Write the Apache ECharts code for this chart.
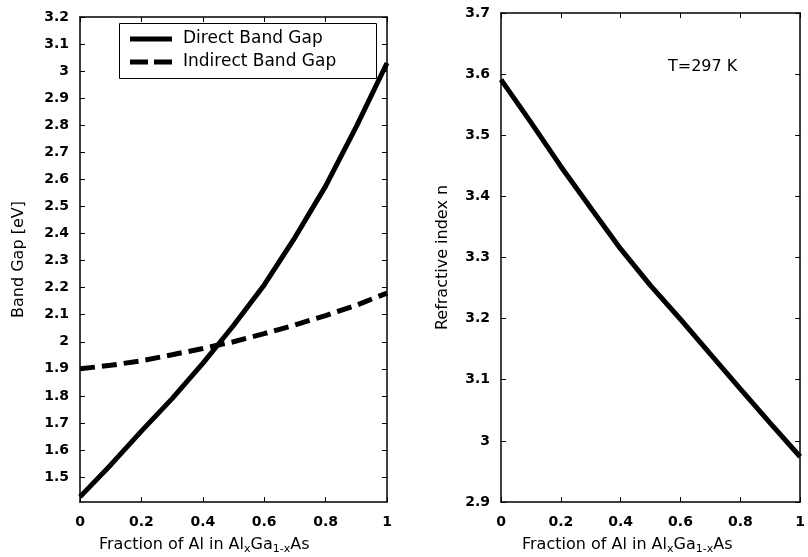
<!DOCTYPE html>
<html>
<head>
<meta charset="utf-8">
<script src="https://cdn.jsdelivr.net/npm/echarts@6/dist/echarts.min.js"></script>
<style>
html,body{margin:0;padding:0;background:#fff;}
#chart{width:808px;height:557px;}
</style>
</head>
<body>
<div id="chart"></div>
<script>
// ---- data ----
var fractionAl = [0, 0.1, 0.2, 0.3, 0.4, 0.45, 0.5, 0.6, 0.7, 0.8, 0.9, 1.0];
var directGap  = [1.427, 1.545, 1.67, 1.79, 1.92, 1.99, 2.06, 2.21, 2.385, 2.575, 2.795, 3.03];
var indirectGap = [1.90, 1.913, 1.93, 1.952, 1.975, 1.988, 2.00, 2.03, 2.062, 2.097, 2.135, 2.18];
var fractionAlN = [0, 0.1, 0.2, 0.3, 0.4, 0.5, 0.6, 0.7, 0.8, 0.9, 1.0];
var refractiveIndex = [3.591, 3.521, 3.449, 3.381, 3.314, 3.254, 3.199, 3.142, 3.085, 3.029, 2.974];

var xTicks = [0, 0.2, 0.4, 0.6, 0.8, 1];
var gapTicks = [1.5, 1.6, 1.7, 1.8, 1.9, 2, 2.1, 2.2, 2.3, 2.4, 2.5, 2.6, 2.7, 2.8, 2.9, 3, 3.1, 3.2];
var nTicks = [2.9, 3, 3.1, 3.2, 3.3, 3.4, 3.5, 3.6, 3.7];
var legendNames = ['Direct Band Gap', 'Indirect Band Gap'];

var FONT = 'DejaVu Sans, sans-serif';

function pairs(xs, ys) { return xs.map(function (x, i) { return [x, ys[i]]; }); }

var chart = echarts.init(document.getElementById('chart'));

function xAxisDef(grid, pos, labels) {
  return {
    type: 'value', gridIndex: grid, position: pos, min: 0, max: 1,
    axisLine: { show: true, onZero: false, lineStyle: { color: '#000', width: 1.5 } },
    axisTick: { show: true, inside: true, length: 5, customValues: xTicks, lineStyle: { color: '#000', width: 1 } },
    axisLabel: { show: labels, customValues: xTicks, margin: 13, color: '#000',
      fontFamily: FONT, fontSize: 14, fontWeight: 'bold' },
    splitLine: { show: false }
  };
}
function yAxisDef(grid, pos, labels, min, max, ticks, name, gap) {
  return {
    type: 'value', gridIndex: grid, position: pos, min: min, max: max,
    name: name, nameLocation: 'middle', nameGap: gap, nameRotate: 90,
    nameTextStyle: { color: '#000', fontFamily: FONT, fontSize: 16 },
    axisLine: { show: true, onZero: false, lineStyle: { color: '#000', width: 1.5 } },
    axisTick: { show: true, inside: true, length: 5, customValues: ticks, lineStyle: { color: '#000', width: 1 } },
    axisLabel: { show: labels, customValues: ticks, margin: 11, color: '#000',
      fontFamily: FONT, fontSize: 14, fontWeight: 'bold' },
    splitLine: { show: false }
  };
}

var subRich = {
  n: { fontFamily: FONT, fontSize: 16, color: '#000' },
  s: { fontFamily: FONT, fontSize: 11, color: '#000', padding: [9, 0, 0, 0] }
};
var xName = '{n|Fraction of Al in Al}{s|x}{n|Ga}{s|1-x}{n|As}';

var option = {
  backgroundColor: '#fff',
  animation: false,
  grid: [
    { left: 80, top: 17, width: 307, height: 485 },
    { left: 501, top: 13, width: 306, height: 489 }
  ],
  xAxis: [
    xAxisDef(0, 'bottom', true),
    xAxisDef(0, 'top', false),
    xAxisDef(1, 'bottom', true),
    xAxisDef(1, 'top', false)
  ],
  yAxis: [
    yAxisDef(0, 'left', true, 1.408, 3.2, gapTicks, 'Band Gap [eV]', 53),
    yAxisDef(0, 'right', false, 1.408, 3.2, gapTicks, '', 0),
    yAxisDef(1, 'left', true, 2.9, 3.7, nTicks, 'Refractive index n', 50),
    yAxisDef(1, 'right', false, 2.9, 3.7, nTicks, '', 0)
  ],
  graphic: [
    { type: 'text', left: 99, top: 537, style: { rich: subRich, text: xName } },
    { type: 'text', left: 522, top: 537, style: { rich: subRich, text: xName } },
    { type: 'text', left: 668, top: 59, style: { text: 'T=297 K', fontFamily: FONT, fontSize: 16, fill: '#000' } },
    // legend box
    { type: 'rect', shape: { x: 119.5, y: 23.5, width: 257, height: 55 }, z: 10,
      style: { fill: '#fff', stroke: '#000', lineWidth: 1 } },
    { type: 'line', shape: { x1: 130, y1: 39, x2: 172, y2: 39 }, z: 11,
      style: { stroke: '#000', lineWidth: 5 } },
    { type: 'line', shape: { x1: 130, y1: 62, x2: 172, y2: 62 }, z: 11,
      style: { stroke: '#000', lineWidth: 5, lineDash: [18, 6] } },
    { type: 'text', x: 183, y: 39, z: 11, style: { text: legendNames[0], fontFamily: FONT, fontSize: 17,
      fill: '#000', verticalAlign: 'middle' } },
    { type: 'text', x: 183, y: 62, z: 11, style: { text: legendNames[1], fontFamily: FONT, fontSize: 17,
      fill: '#000', verticalAlign: 'middle' } }
  ],
  series: [
    {
      name: legendNames[0], type: 'line', xAxisIndex: 0, yAxisIndex: 0,
      data: pairs(fractionAl, directGap), symbol: 'none', smooth: false,
      lineStyle: { color: '#000', width: 5, join: 'round' }
    },
    {
      name: legendNames[1], type: 'line', xAxisIndex: 0, yAxisIndex: 0,
      data: pairs(fractionAl, indirectGap), symbol: 'none', smooth: false,
      lineStyle: { color: '#000', width: 5, type: [15, 7] }
    },
    {
      name: 'Refractive index', type: 'line', xAxisIndex: 2, yAxisIndex: 2,
      data: pairs(fractionAlN, refractiveIndex), symbol: 'none', smooth: false,
      lineStyle: { color: '#000', width: 5, join: 'round' }
    }
  ]
};
chart.setOption(option);
</script>
</body>
</html>
